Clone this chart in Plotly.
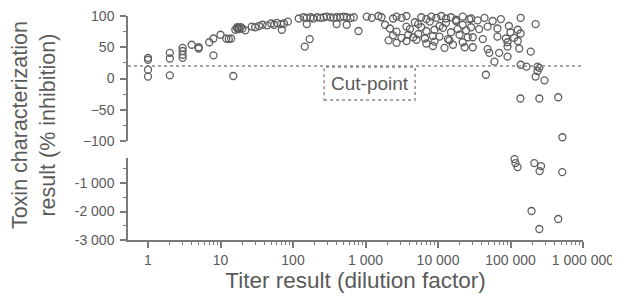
import plotly.graph_objects as go

# ---- data ----
titer_top = [
    1, 1, 1, 1, 2, 2, 2, 3, 3, 3, 3, 4, 5, 5, 7, 8, 8, 10, 12, 13, 14, 15,
    16, 17, 17, 18, 18, 19, 20, 22, 27,
    30, 34, 38, 44, 50, 55, 60, 68, 70, 75, 85,
    120, 140, 155, 175, 190, 215, 240, 265, 290, 330, 365, 400, 450, 500, 550, 620, 690,
    155, 400, 550, 800, 145, 170,
    1040, 1220, 1510, 1660, 2400, 2680, 3150, 3670, 5880, 6900, 8100, 9500, 11100, 12900,
    15100, 17700, 21900, 27000,
    1860, 3670, 4800, 5330, 7700, 10500, 12900, 17700, 21900,
    2170, 2680, 4100, 5880, 6900, 8950, 11700, 15100, 18700, 24400,
    2400, 3150, 3880, 4550, 5330, 6600, 8500, 10500, 13700, 19800, 25700,
    2080, 2680, 3670, 5040, 6900, 8950, 14400, 21900,
    8500, 12300, 16100, 23300,
    28600, 35200, 43800, 56800, 73600, 138000, 222000,
    28600, 36900, 48300, 66000, 95000, 126000,
    100000, 138000,
    30200, 41500, 66000, 86500, 112000,
    91000, 126000,
    30200, 48300, 91000, 132000, 190000,
    51000, 69700, 91000, 60000,
    138000, 166000, 236000, 236000, 45800, 222000, 294000,
    137000, 250000, 455000, 520000, 250000,
]
result_top = [
    33, 30, 14, 3, 41, 32, 5, 49, 44, 38, 33, 54, 50, 48, 58, 64, 37, 70, 64, 63, 64, 4,
    78, 80, 82, 79, 81, 82, 80, 77, 83,
    82, 84, 86, 85, 88, 86, 89, 87, 78, 88, 91,
    96, 98, 97, 98, 96, 98, 97, 98, 99, 98, 97, 98, 98, 99, 98, 97, 98,
    87, 87, 86, 76, 51, 63,
    99, 97, 100, 98, 96, 99, 97, 100, 98, 95, 99, 97, 100, 96,
    98, 94, 99, 95,
    86, 83, 90, 87, 91, 84, 89, 92, 86,
    80, 75, 79, 82, 76, 78, 81, 74, 79, 77,
    69, 65, 70, 66, 71, 64, 68, 67, 63, 70, 66,
    61, 57, 60, 62, 56, 59, 61, 58,
    52, 49, 54, 50,
    96, 93, 97, 92, 95, 97, 87,
    82, 79, 83, 80, 84, 78,
    74, 72,
    66, 63, 67, 64, 65,
    58, 60,
    50, 47, 51, 48, 43,
    41, 41, 35, 27,
    22, 19, 19, 12, 6, 3, -3,
    -32, -32, -30, -94, 17,
]
titer_low = [113500, 117000, 125000, 213000, 264000, 252000, 517000, 195000, 455000, 250000]
result_low = [-158, -298, -439, -298, -404, -579, -614, -1982, -2263, -2614]

cut_point = 20
x_tickvals = [1, 10, 100, 1000, 10000, 100000, 1000000]
x_ticktext = ["1", "10", "100", "1 000", "10 000", "100 000", "1 000 000"]
y_top_ticks = [-100, -50, 0, 50, 100]
y_low_ticks = [-3000, -2000, -1000]
y_low_text = ["-3 000", "-2 000", "-1 000"]

# ---- styling ----
GRAY = "#5a5a5a"
AX = "#7a7a7a"
FONT = "Liberation Sans, Arial, sans-serif"
marker = dict(symbol="circle-open", size=7, color="#5f5f5f", line=dict(width=1.3, color="#5f5f5f"))

fig = go.Figure()
fig.add_trace(go.Scatter(x=titer_top, y=result_top, mode="markers", marker=marker,
                         xaxis="x", yaxis="y", cliponaxis=False, showlegend=False))
fig.add_trace(go.Scatter(x=titer_low, y=result_low, mode="markers", marker=marker,
                         xaxis="x", yaxis="y2", cliponaxis=False, showlegend=False))

minor_x = [m * 10 ** d for d in range(0, 6) for m in range(2, 10)]

axis_common = dict(showline=True, linecolor=AX, linewidth=1.5, ticks="outside",
                   ticklen=6, tickwidth=1.5, tickcolor=AX, showgrid=False, zeroline=False,
                   ticklabeloverflow="allow",
                   tickfont=dict(family=FONT, size=14, color=GRAY))

# page body has an 8px default margin: figure is sized/offset to compensate
fig.update_layout(
    width=612, height=286,
    margin=dict(l=120, r=37, t=8, b=54, autoexpand=False),
    paper_bgcolor="white", plot_bgcolor="white",
    font=dict(family=FONT, color=GRAY),
    xaxis=dict(type="log", range=[-0.276, 6.0], anchor="y2", automargin=False,
               tickmode="array", tickvals=x_tickvals, ticktext=x_ticktext,
               minor=dict(tickmode="array", tickvals=minor_x, ticks="outside", ticklen=3,
                          tickcolor=AX, tickwidth=1.2),
               title=dict(text="Titer result (dilution factor)", standoff=3,
                          font=dict(family=FONT, size=22.5, color=GRAY)),
               **axis_common),
    yaxis=dict(domain=[0.442, 1.0], range=[-100, 100], anchor="x", automargin=False,
               tickmode="array", tickvals=y_top_ticks, ticklabelstandoff=3,
               minor=dict(tickmode="array", tickvals=[-75, -25, 25, 75], ticks="outside",
                          ticklen=3, tickcolor=AX, tickwidth=1.2),
               **axis_common),
    yaxis2=dict(domain=[0.0, 0.366], range=[-3000, -120], anchor="x", automargin=False,
                tickmode="array", tickvals=y_low_ticks, ticktext=y_low_text, ticklabelstandoff=3,
                minor=dict(tickmode="array", tickvals=[-2500, -1500, -500], ticks="outside",
                           ticklen=3, tickcolor=AX, tickwidth=1.2),
                **axis_common),
)

# cut-point line and label box
fig.add_shape(type="line", xref="paper", yref="y", x0=0, x1=1, y0=cut_point, y1=cut_point,
              line=dict(color="#888888", width=1.6, dash="dot"))
fig.add_shape(type="rect", xref="paper", yref="paper", x0=0.431, x1=0.631, y0=0.625, y1=0.772,
              line=dict(color="#888888", width=1.4, dash="dot"), fillcolor="rgba(0,0,0,0)")
fig.add_annotation(text="Cut-point", xref="paper", yref="paper", x=0.531, y=0.699,
                   showarrow=False, xanchor="center", yanchor="middle",
                   font=dict(family=FONT, size=19, color=GRAY))

# y-axis title spanning both panels
fig.add_annotation(text="Toxin characterization<br>result (% inhibition)",
                   xref="paper", yref="paper", x=-0.2066, y=0.513, textangle=-90,
                   showarrow=False, xanchor="center", yanchor="middle",
                   font=dict(family=FONT, size=21.5, color=GRAY))

fig.write_html("out.html")
